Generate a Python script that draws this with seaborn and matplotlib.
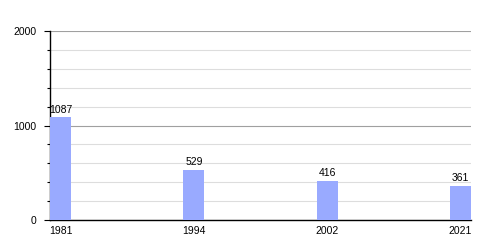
import matplotlib
matplotlib.use("Agg")
import matplotlib.pyplot as plt
import seaborn as sns
import pandas as pd
from matplotlib.ticker import MultipleLocator

years = ["1981", "1994", "2002", "2021"]
population = [1087, 529, 416, 361]

sns.set_style("white")
plt.rcParams['font.family'] = ['Liberation Sans', 'DejaVu Sans']

df = pd.DataFrame({"year": years, "pop": population})
fig = plt.figure(figsize=(5, 2.5), dpi=100)
ax = fig.add_axes([0.1, 0.12, 0.842, 0.756])
sns.barplot(data=df, x="year", y="pop", color="#99aaff", saturation=1, width=0.158,
            linewidth=0, ax=ax, zorder=3)
ax.set_xlim(-0.079, 3.079)
ax.set_ylim(0, 2000)
ax.yaxis.set_major_locator(MultipleLocator(1000))
ax.yaxis.set_minor_locator(MultipleLocator(200))
ax.grid(True, which="major", axis="y", color="#a0a0a0", linewidth=0.8, zorder=0)
ax.grid(True, which="minor", axis="y", color="#dddddd", linewidth=0.8, zorder=0)
for s in ["top", "right"]:
    ax.spines[s].set_visible(False)
for s in ["left", "bottom"]:
    ax.spines[s].set_color("black")
    ax.spines[s].set_linewidth(1.0)
ax.tick_params(axis="y", which="major", left=True, length=4, width=0.8, labelsize=7.5,
               pad=5.5, colors="black")
ax.tick_params(axis="y", which="minor", left=True, length=2, width=0.8, colors="black")
ax.tick_params(axis="x", bottom=False, labelsize=7.5, pad=0.5, colors="black")
ax.set_xlabel("")
ax.set_ylabel("")
ax.bar_label(ax.containers[0], fontsize=7.5, padding=2, color="black")
fig.savefig("out.png", dpi=100)
